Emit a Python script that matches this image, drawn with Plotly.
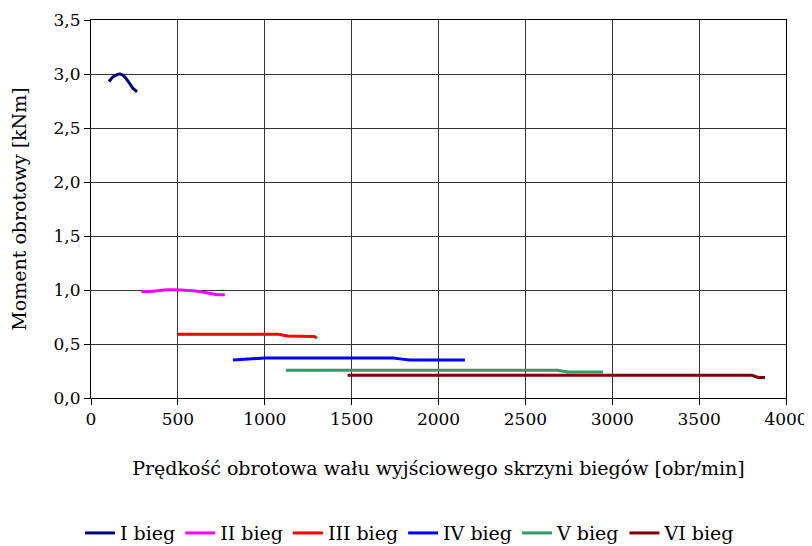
import plotly.graph_objects as go

names = ["I bieg", "II bieg", "III bieg", "IV bieg", "V bieg", "VI bieg"]
colors = ["#000080", "#FF00FF", "#FF0000", "#0000FF", "#339966", "#800000"]

x1 = [104, 125, 150, 167, 190, 215, 240, 265]
y1 = [2.93, 2.97, 2.995, 3.0, 2.98, 2.93, 2.87, 2.835]

x2 = [290, 370, 420, 520, 600, 680, 710, 770]
y2 = [0.985, 0.99, 1.0, 1.0, 0.99, 0.97, 0.96, 0.955]

x3 = [497, 800, 1080, 1130, 1250, 1285, 1300]
y3 = [0.59, 0.59, 0.59, 0.575, 0.575, 0.57, 0.555]

x4 = [817, 900, 1000, 1500, 1740, 1790, 1836, 2000, 2152]
y4 = [0.352, 0.36, 0.37, 0.37, 0.37, 0.36, 0.352, 0.352, 0.352]

x5 = [1122, 1500, 2000, 2682, 2745, 2947]
y5 = [0.256, 0.256, 0.256, 0.256, 0.24, 0.24]

x6 = [1477, 2000, 3000, 3804, 3839, 3879]
y6 = [0.21, 0.21, 0.21, 0.21, 0.19, 0.19]

xs = [x1, x2, x3, x4, x5, x6]
ys = [y1, y2, y3, y4, y5, y6]
shapes_ = ["spline", "spline", "linear", "linear", "linear", "linear"]

x_ticks = [0, 500, 1000, 1500, 2000, 2500, 3000, 3500, 4000]
y_ticks = [0.0, 0.5, 1.0, 1.5, 2.0, 2.5, 3.0, 3.5]

font = "DejaVu Serif"

fig = go.Figure()
for n, c, x, y, s in zip(names, colors, xs, ys, shapes_):
    fig.add_trace(go.Scatter(x=x, y=y, name=n, mode="lines",
                             line=dict(color=c, width=3, shape=s)))

fig.update_layout(
    width=804, height=538,
    margin=dict(l=83, r=26, t=12, b=148, autoexpand=False),
    paper_bgcolor="white", plot_bgcolor="white",
    separators=", ",
    font=dict(family=font, size=17, color="black"),
    showlegend=True,
    legend=dict(orientation="h", xref="container", yref="container",
                x=0.5, xanchor="center", y=0.024, yanchor="middle",
                font=dict(family=font, size=19), itemwidth=30,
                tracegroupgap=0),
)
fig.update_xaxes(range=[0, 4000], tickvals=x_ticks, ticks="outside", ticklen=6,
                 tickcolor="black", showline=True, linecolor="black", linewidth=1,
                 mirror=True, showgrid=True, gridcolor="#333333", gridwidth=1,
                 zeroline=False, tickfont=dict(size=17), automargin=False,
                 title=dict(text="Prędkość obrotowa wału wyjściowego skrzyni biegów [obr/min]",
                            font=dict(size=19), standoff=33))
fig.update_yaxes(range=[0, 3.5], tickvals=y_ticks, tickformat=".1f", ticks="outside",
                 ticklen=6, tickcolor="black", showline=True, linecolor="black",
                 linewidth=1, mirror=True, showgrid=True, gridcolor="#333333",
                 gridwidth=1, zeroline=False, tickfont=dict(size=17), automargin=False,
                 title=dict(text="Moment obrotowy [kNm]", font=dict(size=19), standoff=22))

fig.write_html("out.html")
